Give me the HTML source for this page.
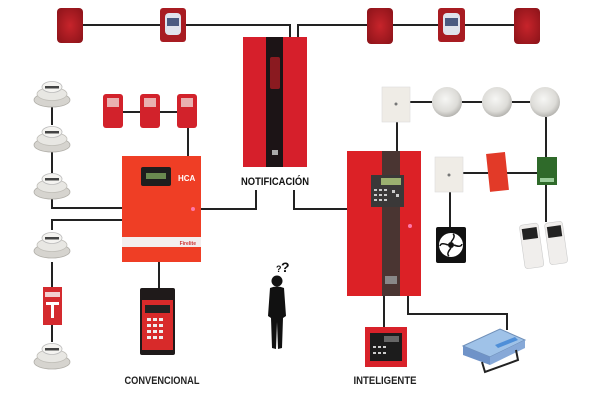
<!DOCTYPE html>
<html><head><meta charset="utf-8"><style>
html,body{margin:0;padding:0;background:#fff;}
svg{display:block;}
text{font-family:"Liberation Sans",sans-serif;font-weight:bold;}
</style></head><body>
<svg width="600" height="400" viewBox="0 0 600 400" xmlns="http://www.w3.org/2000/svg">
<defs>
<radialGradient id="det" cx="45%" cy="40%" r="60%"><stop offset="0" stop-color="#f6f6f4"/><stop offset="0.7" stop-color="#dddcd8"/><stop offset="1" stop-color="#b5b4b0"/></radialGradient>
<radialGradient id="horn" cx="50%" cy="50%" r="65%"><stop offset="0" stop-color="#c7242b"/><stop offset="1" stop-color="#8e141a"/></radialGradient>
</defs>
<g stroke="#222" stroke-width="2" fill="none">
<polyline points="83,25 160,25"/>
<polyline points="186,25 290,25 290,37"/>
<polyline points="298,37 298,25 367,25"/>
<polyline points="393,25 438,25"/>
<polyline points="465,25 514,25"/>
<polyline points="256,190 256,209 201,209"/>
<polyline points="294,190 294,209 347,209"/>
<line x1="52" y1="107" x2="52" y2="125"/>
<line x1="52" y1="152" x2="52" y2="173"/>
<polyline points="52,199 52,208 122,208"/>
<polyline points="122,220 52,220 52,230"/>
<line x1="52" y1="262" x2="52" y2="287"/>
<line x1="52" y1="325" x2="52" y2="342"/>
<line x1="123" y1="112" x2="140" y2="112"/>
<line x1="160" y1="112" x2="177" y2="112"/>
<line x1="188" y1="128" x2="188" y2="156"/>
<line x1="159" y1="262" x2="159" y2="288"/>
<line x1="384" y1="296" x2="384" y2="327"/>
<polyline points="408,296 408,314 507,314 507,330"/>
<line x1="410" y1="102" x2="432" y2="102"/>
<line x1="462" y1="102" x2="482" y2="102"/>
<line x1="512" y1="102" x2="530" y2="102"/>
<line x1="397" y1="122" x2="397" y2="151"/>
<line x1="546" y1="117" x2="546" y2="157"/>
<line x1="463" y1="173" x2="488" y2="173"/>
<line x1="507" y1="173" x2="537" y2="173"/>
<line x1="546" y1="185" x2="546" y2="222"/>
<line x1="450" y1="192" x2="450" y2="227"/>
</g>

<rect x="57" y="8" width="26" height="35" rx="4" fill="url(#horn)"/>
<rect x="160" y="8" width="26" height="34" rx="3" fill="#a81c22"/>
<rect x="165" y="13" width="16" height="22" rx="4" fill="#dfe3ec"/>
<rect x="167" y="18" width="12" height="8" fill="#4a5a80"/>
<rect x="367" y="8" width="26" height="36" rx="4" fill="url(#horn)"/>
<rect x="438" y="8" width="27" height="34" rx="3" fill="#a81c22"/>
<rect x="443" y="13" width="17" height="22" rx="4" fill="#dfe3ec"/>
<rect x="445" y="18" width="13" height="8" fill="#4a5a80"/>
<rect x="514" y="8" width="26" height="36" rx="4" fill="url(#horn)"/>

<rect x="243" y="37" width="64" height="130" fill="#d61f2b"/>
<rect x="266" y="37" width="17" height="130" fill="#1c1416"/>
<rect x="270" y="57" width="10" height="32" rx="2" fill="#8a1a20"/>
<rect x="272" y="150" width="6" height="5" fill="#aaa"/>
<text x="275" y="185" font-size="11" fill="#111" text-anchor="middle" textLength="68" lengthAdjust="spacingAndGlyphs">NOTIFICACIÓN</text>

<rect x="122" y="156" width="79" height="106" fill="#ef3e25"/>
<rect x="141" y="167" width="30" height="19" rx="2" fill="#1e1e1e"/>
<rect x="146" y="173" width="20" height="6" fill="#6a8a50"/>
<text x="178" y="181" font-size="8" fill="#fff">HCA</text>
<rect x="122" y="237" width="79" height="10" fill="#f3eeee"/>
<text x="196" y="245" font-size="5" fill="#c33" text-anchor="end">Firelite</text>
<circle cx="193" cy="209" r="2" fill="#f7a"/>

<rect x="103" y="94" width="20" height="34" rx="3" fill="#d2222b"/>
<rect x="140" y="94" width="20" height="34" rx="3" fill="#d2222b"/>
<rect x="177" y="94" width="20" height="34" rx="3" fill="#d2222b"/>
<rect x="107" y="98" width="12" height="9" fill="#e9b0b0"/>
<rect x="144" y="98" width="12" height="9" fill="#e9b0b0"/>
<rect x="181" y="98" width="12" height="9" fill="#e9b0b0"/>

<rect x="140" y="288" width="35" height="67" rx="2" fill="#1f1a1a"/>
<rect x="142" y="300" width="31" height="50" fill="#d82a2a"/>
<rect x="145" y="305" width="25" height="8" fill="#222"/>
<g fill="#eee">
<rect x="147" y="318" width="4" height="3"/><rect x="153" y="318" width="4" height="3"/><rect x="159" y="318" width="4" height="3"/>
<rect x="147" y="324" width="4" height="3"/><rect x="153" y="324" width="4" height="3"/><rect x="159" y="324" width="4" height="3"/>
<rect x="147" y="330" width="4" height="3"/><rect x="153" y="330" width="4" height="3"/><rect x="159" y="330" width="4" height="3"/>
<rect x="147" y="336" width="4" height="3"/><rect x="153" y="336" width="4" height="3"/><rect x="159" y="336" width="4" height="3"/>
</g>
<text x="162" y="384" font-size="11" fill="#222" text-anchor="middle" textLength="75" lengthAdjust="spacingAndGlyphs">CONVENCIONAL</text>

<g id="d1">
<ellipse cx="52" cy="100" rx="18" ry="7" fill="#d6d4cf" stroke="#b0aea8" stroke-width="0.8"/>
<ellipse cx="52" cy="94" rx="15" ry="6.5" fill="#e8e7e3" stroke="#c0beb8" stroke-width="0.8"/>
<ellipse cx="52" cy="87" rx="10" ry="5.5" fill="#f4f3f0" stroke="#bbb" stroke-width="0.8"/>
<rect x="45" y="86" width="14" height="2.5" fill="#444"/>
</g>
<use href="#d1" y="45"/>
<use href="#d1" y="92"/>
<use href="#d1" y="151"/>
<use href="#d1" y="262"/>
<rect x="43" y="287" width="19" height="38" fill="#d42a2e"/>
<rect x="45" y="292" width="15" height="5" fill="#f2d0d0"/>
<rect x="46" y="302" width="13" height="3" fill="#fff"/>
<rect x="51" y="305" width="3" height="13" fill="#fff"/>

<g fill="#111">
<circle cx="277" cy="281" r="5.5"/>
<path d="M270,288 Q277,285 284,288 L286,316 L283,318 L282,348 L278,349 L277,322 L276,349 L272,348 L271,318 L268,316 Z"/>
</g>
<text x="276" y="272" font-size="9" fill="#111">?</text>
<text x="281" y="272" font-size="14" fill="#111">?</text>

<rect x="347" y="151" width="74" height="145" fill="#dc2126"/>
<rect x="382" y="151" width="18" height="145" fill="#4a3532"/>
<rect x="371" y="175" width="33" height="32" fill="#3a3838"/>
<rect x="381" y="178" width="20" height="7" fill="#9bb070"/>
<g fill="#ccc">
<rect x="374" y="189" width="3" height="2"/><rect x="379" y="189" width="3" height="2"/><rect x="384" y="189" width="3" height="2"/>
<rect x="374" y="194" width="3" height="2"/><rect x="379" y="194" width="3" height="2"/><rect x="384" y="194" width="3" height="2"/>
<rect x="374" y="199" width="3" height="2"/><rect x="379" y="199" width="3" height="2"/><rect x="384" y="199" width="3" height="2"/>
<rect x="392" y="190" width="3" height="3"/><rect x="396" y="194" width="3" height="3"/>
</g>
<circle cx="410" cy="226" r="2" fill="#f7a"/>
<rect x="385" y="276" width="12" height="8" fill="#888"/>

<rect x="365" y="327" width="42" height="40" fill="#d8222a"/>
<rect x="370" y="333" width="32" height="28" fill="#1c1c1c"/>
<rect x="384" y="336" width="15" height="6" fill="#666"/>
<g fill="#ccc"><rect x="373" y="346" width="3" height="2"/><rect x="378" y="346" width="3" height="2"/><rect x="383" y="346" width="3" height="2"/><rect x="373" y="352" width="3" height="2"/><rect x="378" y="352" width="3" height="2"/><rect x="383" y="352" width="3" height="2"/></g>
<text x="385" y="384" font-size="11" fill="#222" text-anchor="middle" textLength="63" lengthAdjust="spacingAndGlyphs">INTELIGENTE</text>

<polygon points="463,346 500,329 525,340 490,357" fill="#9fc2e8" stroke="#6f8fb8" stroke-width="1"/>
<polygon points="463,346 490,357 490,365 463,355" fill="#6f93c8"/>
<polygon points="490,357 525,340 525,348 490,365" fill="#87a9d8"/>
<polygon points="495,345 515,337 518,340 498,348" fill="#4f8fd8"/>
<path d="M482,362 L485,372 L518,360 L516,350" fill="none" stroke="#222" stroke-width="2"/>

<rect x="382" y="87" width="28" height="35" fill="#efece6" stroke="#ddd" stroke-width="0.6"/>
<circle cx="396" cy="104" r="1.5" fill="#777"/>
<circle cx="447" cy="102" r="15" fill="url(#det)"/>
<circle cx="497" cy="102" r="15" fill="url(#det)"/>
<circle cx="545" cy="102" r="15" fill="url(#det)"/>
<rect x="435" y="157" width="28" height="35" fill="#efece6" stroke="#ddd" stroke-width="0.6"/>
<circle cx="449" cy="175" r="1.5" fill="#777"/>
<rect x="488" y="153" width="19" height="38" fill="#e23a28" transform="rotate(-6 497 172)"/>
<rect x="537" y="157" width="20" height="28" fill="#2f6a2a"/>
<rect x="540" y="178" width="14" height="4" fill="#9c9"/>
<rect x="436" y="227" width="30" height="36" rx="2" fill="#111"/>
<circle cx="451" cy="245" r="12" fill="#fff"/>
<circle cx="451" cy="245" r="3" fill="#111"/>
<g stroke="#111" stroke-width="1.5" fill="none">
<path d="M451,242 Q456,236 453,234"/><path d="M454,245 Q461,248 462,244"/><path d="M451,248 Q446,254 449,256"/><path d="M448,245 Q441,242 440,246"/>
</g>
<g transform="rotate(-8 531 245)">
<rect x="522" y="224" width="19" height="44" rx="3" fill="#f0eeec" stroke="#ccc" stroke-width="0.6"/>
<rect x="524" y="228" width="15" height="11" fill="#222"/>
</g>
<g transform="rotate(-8 556 242)">
<rect x="547" y="222" width="18" height="42" rx="3" fill="#f0eeec" stroke="#ccc" stroke-width="0.6"/>
<rect x="549" y="226" width="14" height="11" fill="#222"/>
</g>
</svg>
</body></html>
